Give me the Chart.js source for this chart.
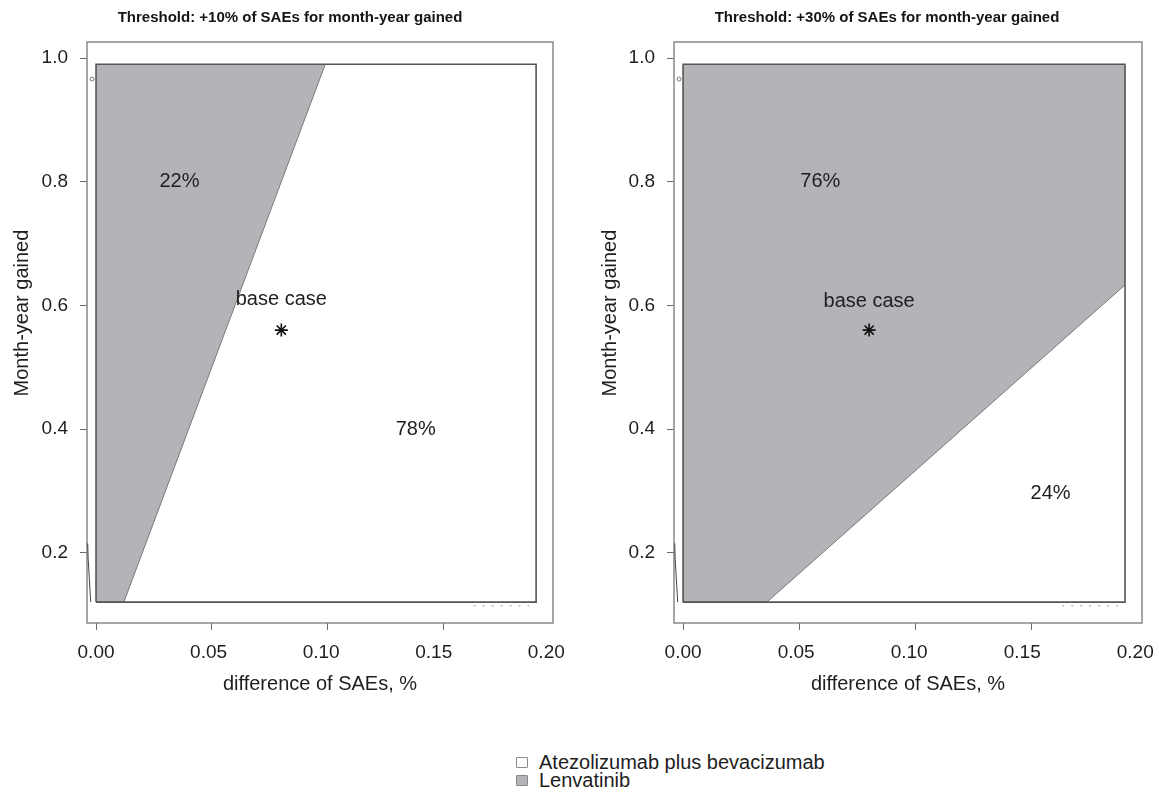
<!DOCTYPE html>
<html><head><meta charset="utf-8">
<script src="https://cdn.jsdelivr.net/npm/chart.js@4.4.1/dist/chart.umd.min.js"></script>
<style>
html,body{margin:0;padding:0;background:#fff;width:1159px;height:795px;overflow:hidden;position:relative;font-family:"Liberation Sans",Arial,sans-serif;}
#c1{position:absolute;left:0;top:0;}
#c2{position:absolute;left:588px;top:0;}
.legend{position:absolute;left:516px;top:753px;font-size:20px;color:#1e1e1e;line-height:18px;}
.legend .row{display:flex;align-items:center;height:18px;}
.sw{width:10px;height:9px;border:1px solid #8a8a8a;border-radius:1px;margin-right:11px;box-sizing:content-box;}
</style></head>
<body>
<canvas id="c1" width="580" height="720"></canvas>
<canvas id="c2" width="598" height="720"></canvas>
<div class="legend">
  <div class="row"><span class="sw" style="background:#ffffff"></span><span id="lg0"></span></div>
  <div class="row"><span class="sw" style="background:#b3b4b8"></span><span id="lg1"></span></div>
</div>
<script>
// ---- data ----
const xTicks = [0, 0.05, 0.10, 0.15, 0.20];
const yTicks = [0.2, 0.4, 0.6, 0.8, 1.0];
const panelTitles = ['Threshold: +10% of SAEs for month-year gained', 'Threshold: +30% of SAEs for month-year gained'];
const xTitle = 'difference of SAEs, %';
const yTitle = 'Month-year gained';
const legendNames = ['Atezolizumab plus bevacizumab', 'Lenvatinib'];
// evaluated region (rectangle)
const regionX = [0, 0.19, 0.19, 0, 0];
const regionY = [0.12, 0.12, 0.99, 0.99, 0.12];
// Lenvatinib boundary (gray area lies above/left of it, up to y = 0.99)
const leftBoundaryX = [0, 0.012, 0.099];
const leftBoundaryY = [0.12, 0.12, 0.99];
const rightBoundaryX = [0, 0.036, 0.19];
const rightBoundaryY = [0.12, 0.12, 0.633];
const boundaryTop = 0.99;
// base case
const baseCaseX = [0.08];
const baseCaseY = [0.56];
// small contour artefacts near the edges
const artefactX = [-0.0036, -0.0034, -0.0023];
const artefactY = [0.215, 0.19, 0.12];
const specksX = [0.163, 0.187];
const specksY = [0.114, 0.114];
const dotX = [-0.0017];
const dotY = [0.966];
// in-plot labels
const leftLabels = ['22%', 'base case', '78%'];
const leftLabelX = [0.036, 0.080, 0.138];
const leftLabelY = [0.80, 0.61, 0.40];
const rightLabels = ['76%', 'base case', '24%'];
const rightLabelX = [0.059, 0.080, 0.158];
const rightLabelY = [0.80, 0.607, 0.295];

document.getElementById('lg0').textContent = legendNames[0];
document.getElementById('lg1').textContent = legendNames[1];

const FONT = '"Liberation Sans", Arial, sans-serif';
const GRAY = '#b3b4b8';
const TXT = '#1e1e1e';
const X_MIN = -0.0039, X_MAX = 0.1973;
const Y_MIN = 0.0863, Y_MAX = 1.0259;
// the printed tick labels of the figure sit slightly closer together than the tick marks
const LABEL_SPREAD = 0.972;
const pts = (xs, ys) => xs.map((x, i) => ({x: x, y: ys[i]}));

const framePlugin = {
  id: 'frame',
  beforeDatasetsDraw(chart) {
    const {ctx, chartArea: a} = chart;
    ctx.save();
    ctx.strokeStyle = '#808080';
    ctx.lineWidth = 1.4;
    ctx.strokeRect(a.left, a.top, a.right - a.left, a.bottom - a.top);
    ctx.restore();
  }
};

const labelPlugin = {
  id: 'plotLabels',
  afterDatasetsDraw(chart, args, opts) {
    const {ctx, scales: {x, y}} = chart;
    ctx.save();
    ctx.font = '20px ' + FONT;
    ctx.fillStyle = TXT;
    ctx.textAlign = 'center';
    ctx.textBaseline = 'middle';
    opts.texts.forEach((t, i) => {
      ctx.fillText(t, x.getPixelForValue(opts.xs[i]), y.getPixelForValue(opts.ys[i]));
    });
    ctx.restore();
  }
};

const titlePlugin = {
  id: 'panelTitle',
  afterDraw(chart, args, opts) {
    const {ctx} = chart;
    ctx.save();
    ctx.font = 'bold 15px ' + FONT;
    ctx.fillStyle = '#151515';
    ctx.textAlign = 'center';
    ctx.textBaseline = 'middle';
    ctx.fillText(opts.text, opts.cx, 18);
    ctx.restore();
  }
};

function makePanel(id, title, titleCx, bx, by, texts, tx, ty, yWidth, padRight) {
  new Chart(document.getElementById(id), {
    type: 'scatter',
    data: {
      datasets: [
        {data: pts(baseCaseX, baseCaseY), pointStyle: 'star', pointRadius: 6.5, pointBorderWidth: 1.6,
         borderColor: '#111', backgroundColor: '#111', showLine: false, order: 0},
        {data: pts(regionX, regionY), showLine: true, borderColor: '#555555', borderWidth: 1.6,
         pointRadius: 0, fill: false, tension: 0, order: 1},
        {data: pts(artefactX, artefactY), showLine: true, borderColor: '#444', borderWidth: 1,
         pointRadius: 0, fill: false, order: 2},
        {data: pts(specksX, specksY), showLine: true, borderColor: '#9a9a9a', borderWidth: 1,
         borderDash: [2, 7], pointRadius: 0, fill: false, order: 2},
        {data: pts(dotX, dotY), showLine: false, pointStyle: 'circle', pointRadius: 2,
         borderColor: '#777', backgroundColor: 'rgba(0,0,0,0)', pointBorderWidth: 1, order: 2},
        {data: pts(bx, by), showLine: true, borderColor: '#7a7a7a', borderWidth: 1,
         backgroundColor: GRAY, fill: {value: boundaryTop}, pointRadius: 0, tension: 0, order: 3}
      ]
    },
    options: {
      responsive: false,
      animation: false,
      layout: {padding: {left: 0, top: 42, right: padRight, bottom: 17}},
      plugins: {
        legend: {display: false},
        tooltip: {enabled: false},
        title: {display: false},
        plotLabels: {texts: texts, xs: tx, ys: ty},
        panelTitle: {text: title, cx: titleCx}
      },
      scales: {
        x: {
          type: 'linear', position: 'bottom', weight: 0, min: X_MIN, max: X_MAX,
          afterBuildTicks: s => { s.ticks = xTicks.map(v => ({value: v})); },
          afterFit: s => { s.height = 7; s.paddingLeft = 0; s.paddingRight = 0; },
          ticks: {display: false, autoSkip: false},
          grid: {drawOnChartArea: false, drawTicks: true, tickLength: 7, tickWidth: 1,
                 tickColor: c => (c.tick && c.tick.value > X_MAX) ? 'rgba(0,0,0,0)' : '#6a6a6a'},
          border: {display: false}
        },
        xLabels: {
          type: 'linear', position: 'bottom', weight: 1,
          min: X_MIN / LABEL_SPREAD, max: X_MAX / LABEL_SPREAD,
          afterBuildTicks: s => { s.ticks = xTicks.map(v => ({value: v})); },
          afterFit: s => { s.height = 73; s.paddingLeft = 0; s.paddingRight = 0; },
          ticks: {callback: v => Number(v).toFixed(2), color: TXT, font: {family: FONT, size: 19}, padding: 11, maxRotation: 0, autoSkip: false},
          grid: {display: false, drawTicks: false},
          border: {display: false},
          title: {display: true, text: xTitle, color: TXT, font: {family: FONT, size: 20}, padding: {top: 0, bottom: 7}}
        },
        y: {
          type: 'linear', min: Y_MIN, max: Y_MAX,
          afterBuildTicks: s => { s.ticks = yTicks.map(v => ({value: v})); },
          afterFit: s => { s.width = yWidth; s.paddingTop = 0; s.paddingBottom = 0; },
          ticks: {callback: v => Number(v).toFixed(1), color: TXT, font: {family: FONT, size: 19}, padding: 12, autoSkip: false},
          grid: {drawOnChartArea: false, drawTicks: true, tickLength: 7, tickWidth: 1, tickColor: '#6a6a6a'},
          border: {display: false},
          title: {display: true, text: '       ' + yTitle, color: TXT, font: {family: FONT, size: 20}, padding: {top: 10, bottom: 0}}
        }
      }
    },
    plugins: [framePlugin, labelPlugin, titlePlugin]
  });
}

makePanel('c1', panelTitles[0], 290, leftBoundaryX, leftBoundaryY, leftLabels, leftLabelX, leftLabelY, 87, 27);
makePanel('c2', panelTitles[1], 299, rightBoundaryX, rightBoundaryY, rightLabels, rightLabelX, rightLabelY, 86, 44);
</script>
</body></html>
